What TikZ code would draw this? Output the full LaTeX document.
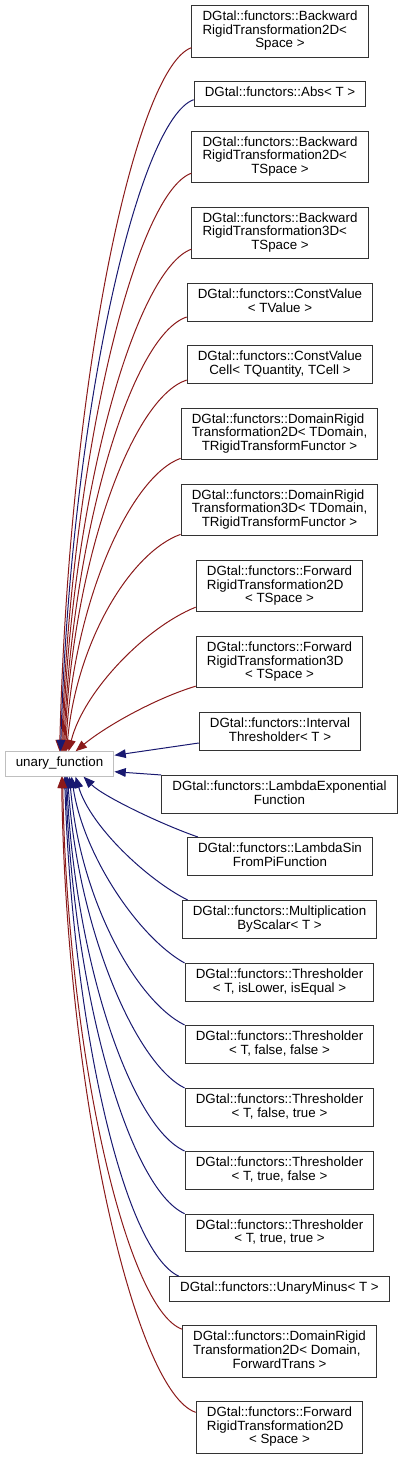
\documentclass[tikz,border=0pt]{standalone}
\usepackage{fontspec}
\setmainfont{Liberation Sans}
\usetikzlibrary{arrows.meta,calc}

\definecolor{inhblue}{RGB}{25,25,112}
\definecolor{inhred}{RGB}{139,26,26}

% class label: left-aligned lines, last line centred
\newcommand{\cls}[2]{\begin{tabular}{@{}l@{}}#1\\\multicolumn{1}{@{}c@{}}{#2}\end{tabular}}
\newcommand{\one}[1]{\begin{tabular}{@{}c@{}}#1\end{tabular}}

\begin{document}
\begin{tikzpicture}[x=0.75pt,y=0.75pt, every node/.style={font=\fontsize{10}{10}\selectfont},
  cbox/.style={draw=black!80,line width=0.8pt,inner xsep=8pt,inner ysep=4pt},
  ubox/.style={draw=black!25,line width=0.8pt,inner xsep=8pt,inner ysep=4pt},
  pub/.style={inhblue,line width=0.75pt,-{Triangle[length=8.5pt,width=6.5pt]}},
  priv/.style={inhred,line width=0.75pt,-{Triangle[length=8.5pt,width=6.5pt]}}]
  \useasboundingbox (0,0) rectangle (403,-1459);
  % base class
  \node[ubox] (uf) at (59.5,-764) {\one{unary\_function}};
  % derived classes
  \node[cbox] (bwd2ds) at (280,-31.5) {\cls{DGtal::functors::Backward\\RigidTransformation2D<}{Space >}};
  \node[cbox] (abs) at (280,-94) {\one{DGtal::functors::Abs< T >}};
  \node[cbox] (bwd2dt) at (280,-157) {\cls{DGtal::functors::Backward\\RigidTransformation2D<}{TSpace >}};
  \node[cbox] (bwd3d) at (280,-233) {\cls{DGtal::functors::Backward\\RigidTransformation3D<}{TSpace >}};
  \node[cbox] (cval) at (280,-302.5) {\cls{DGtal::functors::ConstValue}{< TValue >}};
  \node[cbox] (cvalcell) at (280,-364.5) {\cls{DGtal::functors::ConstValue}{Cell< TQuantity, TCell >}};
  \node[cbox] (drt2d) at (279.5,-434) {\cls{DGtal::functors::DomainRigid\\Transformation2D< TDomain,}{TRigidTransformFunctor >}};
  \node[cbox] (drt3d) at (279.5,-510) {\cls{DGtal::functors::DomainRigid\\Transformation3D< TDomain,}{TRigidTransformFunctor >}};
  \node[cbox] (fwd2d) at (279.5,-586) {\cls{DGtal::functors::Forward\\RigidTransformation2D}{< TSpace >}};
  \node[cbox] (fwd3d) at (279.5,-662) {\cls{DGtal::functors::Forward\\RigidTransformation3D}{< TSpace >}};
  \node[cbox] (ithr) at (280,-731.5) {\cls{DGtal::functors::Interval}{Thresholder< T >}};
  \node[cbox] (lexp) at (279.5,-794.5) {\cls{DGtal::functors::LambdaExponential}{Function}};
  \node[cbox] (lsin) at (280,-856.5) {\cls{DGtal::functors::LambdaSin}{FromPiFunction}};
  \node[cbox] (mult) at (279.5,-919.5) {\cls{DGtal::functors::Multiplication}{ByScalar< T >}};
  \node[cbox] (thr) at (279.5,-982.5) {\cls{DGtal::functors::Thresholder}{< T, isLower, isEqual >}};
  \node[cbox] (thrff) at (279.5,-1044.5) {\cls{DGtal::functors::Thresholder}{< T, false, false >}};
  \node[cbox] (thrft) at (279.5,-1107.5) {\cls{DGtal::functors::Thresholder}{< T, false, true >}};
  \node[cbox] (thrtf) at (279.5,-1170.5) {\cls{DGtal::functors::Thresholder}{< T, true, false >}};
  \node[cbox] (thrtt) at (279.5,-1233) {\cls{DGtal::functors::Thresholder}{< T, true, true >}};
  \node[cbox] (uminus) at (279.5,-1289) {\one{DGtal::functors::UnaryMinus< T >}};
  \node[cbox] (drt2dd) at (279.5,-1351.5) {\cls{DGtal::functors::DomainRigid\\Transformation2D< Domain,}{ForwardTrans >}};
  \node[cbox] (fwd2ds) at (279.5,-1427.5) {\cls{DGtal::functors::Forward\\RigidTransformation2D}{< Space >}};
  % edges from above
  \foreach \n/\dy/\ex/\ax/\ay/\bx/\by in {bwd2ds/10/55/-55/-20/10/380, bwd2dt/10/57/-55/-20/10/300,
      bwd3d/10/58/-55/-20/9/260, cval/5/59/-55/-18/9/220, cvalcell/4/60/-55/-18/8/190,
      drt2d/2/61/-50/-18/8/150, drt3d/2/62/-50/-18/10/110, fwd2d/5/64/-50/-20/15/60, fwd3d/2/71/-40/-12/30/25}
    \draw[priv] ($(\n.south west)+(0,\dy)$) .. controls +(\ax,\ay) and +(\bx,\by) .. ($(uf.north west)+(\ex,0)$);
  \draw[pub] ($(abs.south west)+(0,7)$) .. controls +(-55,-20) and +(10,340) .. ($(uf.north west)+(56,0)$);
  % edges from the side
  \draw[pub] ($(ithr.west)+(0,-11.5)$) -- ($(uf.north east)+(0,-4)$);
  \draw[pub] (lexp.north west) -- ($(uf.south east)+(0,5)$);
  % edges from below
  \foreach \n/\dx/\ex/\ax/\ay/\bx/\by in {lsin/11/79/-35/12/20/-20, mult/6/71/-40/20/15/-50,
      thr/0/67/-45/25/12/-80, thrff/0/65/-50/25/10/-120, thrft/0/63/-50/25/10/-150,
      thrtf/0/62/-55/25/8/-180, thrtt/0/61/-55/25/8/-220, uminus/10/60/-55/25/8/-250}
    \draw[pub] ($(\n.north west)+(\dx,0)$) .. controls +(\ax,\ay) and +(\bx,\by) .. ($(uf.south west)+(\ex,0)$);
  \draw[priv] ($(drt2dd.north west)+(0,-4)$) .. controls +(-55,20) and +(5,-280) .. ($(uf.south west)+(58,0)$);
  \draw[priv] ($(fwd2ds.north west)+(0,-11)$) .. controls +(-60,20) and +(5,-320) .. ($(uf.south west)+(57,0)$);
\end{tikzpicture}
\end{document}
